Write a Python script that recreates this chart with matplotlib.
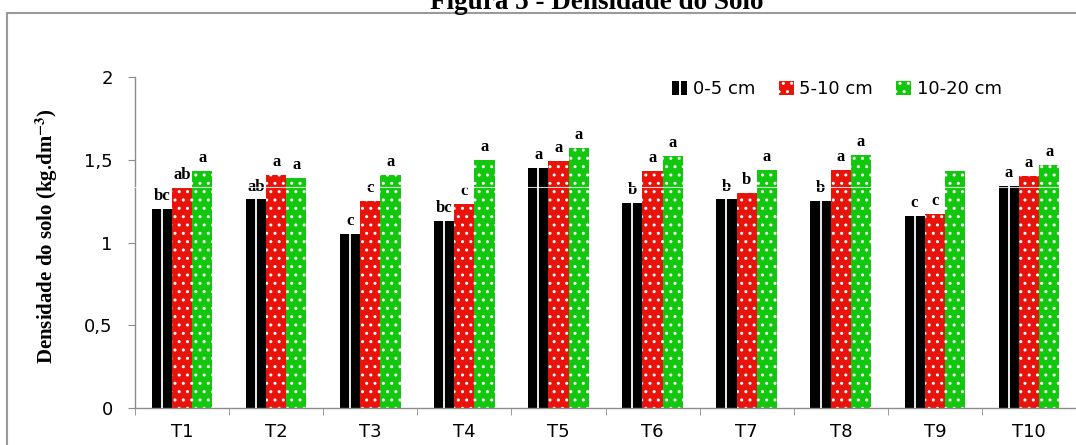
import matplotlib.pyplot as plt
import numpy as np
from matplotlib.patches import Patch, Rectangle
from matplotlib.legend_handler import HandlerTuple

# data
tratamentos = ['T1', 'T2', 'T3', 'T4', 'T5', 'T6', 'T7', 'T8', 'T9', 'T10']
prof_0_5 = [1.20, 1.26, 1.05, 1.13, 1.45, 1.24, 1.26, 1.25, 1.16, 1.34]
prof_5_10 = [1.33, 1.41, 1.25, 1.23, 1.49, 1.43, 1.30, 1.44, 1.17, 1.40]
prof_10_20 = [1.43, 1.39, 1.41, 1.50, 1.57, 1.52, 1.44, 1.53, 1.43, 1.47]
letras_0_5 = ['bc', 'ab', 'c', 'bc', 'a', 'b', 'b', 'b', 'c', 'a']
letras_5_10 = ['ab', 'a', 'c', 'c', 'a', 'a', 'b', 'a', 'c', 'a']
letras_10_20 = ['a', 'a', 'a', 'a', 'a', 'a', 'a', 'a', '', 'a']
legendas = ['0-5 cm', '5-10 cm', '10-20 cm']
yticks = [0, 0.5, 1, 1.5, 2]
yticklabels = ['0', '0,5', '1', '1,5', '2']

plt.rcParams['mathtext.fontset'] = 'stix'
sans = ['DejaVu Sans']
serif = ['Liberation Serif', 'DejaVu Serif']
gray = '#8c8c8c'
vermelho = '#e8140c'
verde = '#13c70f'

fig = plt.figure(figsize=(10.76, 4.45), dpi=100)
ax = fig.add_axes([135 / 1076, 0.0831, 941 / 1076, 0.7439])

# outer frame of the chart (the picture cuts it on right/bottom)
fig.patches.append(Rectangle((7 / 1076, -0.2), 1.2, 1.2 - 13 / 445,
                             transform=fig.transFigure, fill=False,
                             edgecolor='#9a9a9a', linewidth=1.5))
fig.text(597 / 1076, 1 - 9 / 445, 'Figura 5 - Densidade do Solo', ha='center',
         va='baseline', fontsize=19.5, fontweight='bold', family=serif)

x = np.arange(len(tratamentos))
w = 0.215
ax.bar(x - w, prof_0_5, w, color='black', linewidth=0, zorder=2)
ax.vlines(x - w, 0, prof_0_5, color='white', linewidth=1.3, zorder=3)
ax.bar(x, prof_5_10, w, color=vermelho, edgecolor='white', hatch='..',
       linewidth=0, zorder=2)
ax.bar(x + w, prof_10_20, w, color=verde, edgecolor='white', hatch='..',
       linewidth=0, zorder=2)

# faint white streak crossing the bars in the original
ax.axhline(1.335, color='white', linewidth=0.8, alpha=0.8, zorder=4)

for off, vals, letras in [(-w, prof_0_5, letras_0_5), (0, prof_5_10, letras_5_10),
                          (w, prof_10_20, letras_10_20)]:
    for xi, v, l in zip(x, vals, letras):
        if l:
            ax.text(xi + off, v + 0.03, l, ha='center', va='bottom', fontsize=12,
                    fontweight='bold', family=serif)

ax.set_xlim(-0.5, 9.5)
ax.set_ylim(0, 2)
ax.set_yticks(yticks)
ax.set_yticklabels(yticklabels, fontsize=13, family=sans)
ax.set_xticks(x)
ax.set_xticklabels(tratamentos, fontsize=13, family=sans)
ax.set_xticks(np.arange(-0.5, 10, 1), minor=True)
ax.tick_params(axis='x', which='major', length=0, pad=11)
ax.tick_params(axis='x', which='minor', length=5, color=gray, direction='out')
ax.tick_params(axis='y', length=5, color=gray, pad=11)
for s in ['top', 'right']:
    ax.spines[s].set_visible(False)
for s in ['left', 'bottom']:
    ax.spines[s].set_color(gray)
    ax.spines[s].set_linewidth(1)

ax.set_ylabel('Densidade do solo (kg.dm$^{\\mathbf{-3}}$)', fontsize=15,
              fontweight='bold', family=serif)
ax.yaxis.set_label_coords(-0.0797, 0.52)

handles = [(Patch(facecolor='black', linewidth=0), Patch(facecolor='black', linewidth=0)),
           Patch(facecolor=vermelho, edgecolor='white', hatch='..', linewidth=0),
           Patch(facecolor=verde, edgecolor='white', hatch='..', linewidth=0)]
ax.legend(handles, legendas, ncol=3, frameon=False, loc='center right',
          bbox_to_anchor=(0.921, 0.964), prop={'family': sans, 'size': 13},
          handlelength=0.83, handleheight=0.83, handletextpad=0.3,
          columnspacing=1.3, borderpad=0, borderaxespad=0,
          handler_map={tuple: HandlerTuple(ndivide=None, pad=0.1)})

fig.savefig('out.png', dpi=100)
